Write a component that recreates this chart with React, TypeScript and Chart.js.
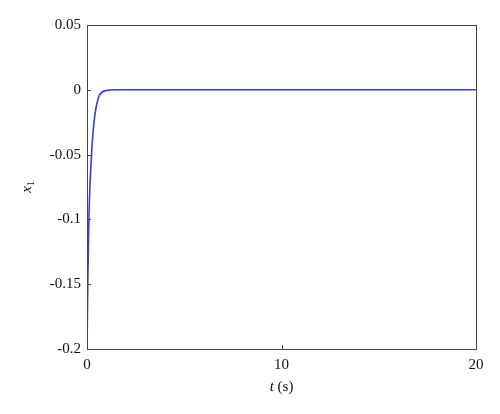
import { useEffect, useRef } from 'react';
import { Chart, registerables } from 'chart.js';

Chart.register(...registerables);

// time samples (s) and x1 response
const tValues = [0, 0.02, 0.04, 0.07, 0.09, 0.12, 0.15, 0.19, 0.25, 0.32, 0.4, 0.45, 0.55, 0.65, 0.8, 1.0, 1.2, 1.5, 2, 5, 10, 15, 20];
const x1Values = [-0.2, -0.175, -0.152, -0.122, -0.105, -0.088, -0.075, -0.062, -0.045, -0.031, -0.02, -0.015, -0.008, -0.004, -0.0015, -0.0005, -0.0002, 0, 0, 0, 0, 0, 0];

const xTicks = [0, 10, 20];
const yTicks = [0.05, 0, -0.05, -0.1, -0.15, -0.2];

const FONT = '"Liberation Serif", "Times New Roman", serif';

const framePlugin = {
  id: 'matlabFrame',
  afterDraw(chart: any) {
    const { ctx, chartArea: a, scales } = chart;
    ctx.save();
    ctx.strokeStyle = '#444';
    ctx.lineWidth = 1;
    ctx.strokeRect(a.left + 0.5, a.top + 0.5, a.right - a.left, a.bottom - a.top);
    ctx.beginPath();
    xTicks.forEach((v) => {
      const px = Math.round(scales.x.getPixelForValue(v)) + 0.5;
      ctx.moveTo(px, a.bottom);
      ctx.lineTo(px, a.bottom - 4);
    });
    yTicks.forEach((v) => {
      const py = Math.round(scales.y.getPixelForValue(v)) + 0.5;
      ctx.moveTo(a.left, py);
      ctx.lineTo(a.left + 4, py);
    });
    ctx.stroke();

    // y title: x with subscript 1, rotated
    ctx.fillStyle = '#111';
    ctx.translate(27, (a.top + a.bottom) / 2);
    ctx.rotate(-Math.PI / 2);
    ctx.textBaseline = 'middle';
    ctx.font = `italic 15px ${FONT}`;
    const wx = ctx.measureText('x').width;
    ctx.font = `10px ${FONT}`;
    const w1 = ctx.measureText('1').width;
    const start = -(wx + w1) / 2;
    ctx.font = `italic 15px ${FONT}`;
    ctx.textAlign = 'left';
    ctx.fillText('x', start, 0);
    ctx.font = `10px ${FONT}`;
    ctx.fillText('1', start + wx, 4);
    ctx.setTransform(1, 0, 0, 1, 0, 0);
    ctx.restore();

    // x title: t (s)
    ctx.save();
    const dpr = chart.currentDevicePixelRatio || 1;
    ctx.scale(dpr, dpr);
    ctx.fillStyle = '#111';
    ctx.textBaseline = 'middle';
    ctx.font = `italic 15px ${FONT}`;
    const wt = ctx.measureText('t').width;
    ctx.font = `15px ${FONT}`;
    const ws = ctx.measureText(' (s)').width;
    const cx = (a.left + a.right) / 2;
    const sx = cx - (wt + ws) / 2;
    ctx.textAlign = 'left';
    ctx.font = `italic 15px ${FONT}`;
    ctx.fillText('t', sx, 387);
    ctx.font = `15px ${FONT}`;
    ctx.fillText(' (s)', sx + wt, 387);
    ctx.restore();
  },
};

export default function App() {
  const canvasRef = useRef<HTMLCanvasElement>(null);

  useEffect(() => {
    document.body.style.margin = '0';
    const canvas = canvasRef.current;
    if (!canvas) return;
    const chart = new Chart(canvas, {
      type: 'line',
      data: {
        datasets: [
          {
            data: tValues.map((t, i) => ({ x: t, y: x1Values[i] })),
            borderColor: '#3a3ae0',
            borderWidth: 1.6,
            pointRadius: 0,
            cubicInterpolationMode: 'monotone',
            fill: false,
          },
        ],
      },
      options: {
        animation: false,
        responsive: false,
        devicePixelRatio: 1,
        layout: { padding: { top: 25, right: 24, left: 0, bottom: 0 } },
        plugins: { legend: { display: false }, tooltip: { enabled: false } },
        scales: {
          x: {
            type: 'linear',
            min: 0,
            max: 20,
            afterBuildTicks: (s: any) => { s.ticks = xTicks.map((v) => ({ value: v })); },
            afterFit: (s: any) => { s.height = 65; },
            grid: { display: false, drawTicks: false },
            border: { display: false },
            ticks: { padding: 7, color: '#111', font: { family: FONT, size: 15 }, maxRotation: 0 },
          },
          y: {
            type: 'linear',
            min: -0.2,
            max: 0.05,
            afterBuildTicks: (s: any) => { s.ticks = yTicks.map((v) => ({ value: v })); },
            afterFit: (s: any) => { s.width = 87; },
            grid: { display: false, drawTicks: false },
            border: { display: false },
            ticks: {
              padding: 6,
              color: '#111',
              font: { family: FONT, size: 15 },
              callback: (v: any) => String(Number(Number(v).toFixed(2))),
            },
          },
        },
      },
      plugins: [framePlugin],
    });
    return () => chart.destroy();
  }, []);

  return (
    <div style={{ width: 500, height: 414, background: '#fff' }}>
      <canvas ref={canvasRef} width={500} height={414} style={{ width: 500, height: 414 }} />
    </div>
  );
}
